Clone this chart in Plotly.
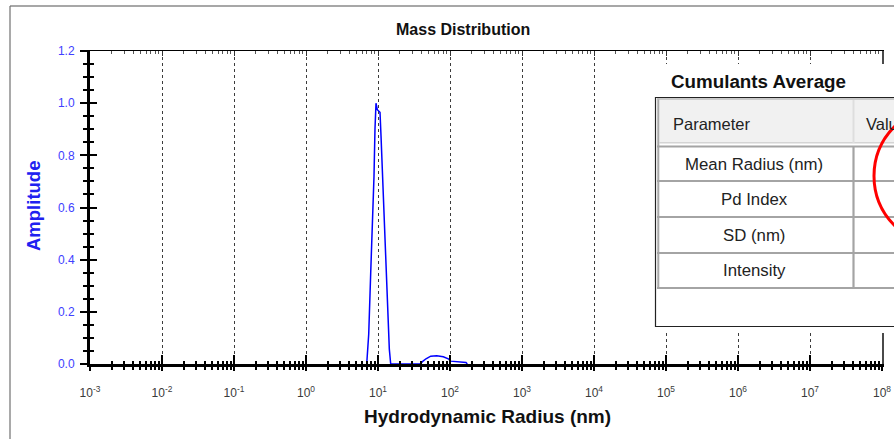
import plotly.graph_objects as go

# ---------------- data ----------------
radius_nm = [6.97, 7.43, 7.92, 8.44, 8.80, 9.08, 9.38, 9.78, 10.66, 11.01, 11.62, 12.11,
             12.78, 13.34, 13.77, 14.36, 15.01,
             38.3, 41.8, 46.4, 54.0, 65.4, 80.7, 94.7, 102.3, 130.3, 166.7, 173.9]
amplitude = [0.0, 0.114, 0.35, 0.55, 0.72, 0.90, 1.0, 0.975, 0.965, 0.875, 0.70, 0.54,
             0.41, 0.29, 0.17, 0.057, 0.0,
             0.0, 0.010, 0.020, 0.030, 0.032, 0.028, 0.020, 0.011, 0.009, 0.006, 0.0]

x_tick_exponents = [-3, -2, -1, 0, 1, 2, 3, 4, 5, 6, 7, 8]
y_tick_values = [0.0, 0.2, 0.4, 0.6, 0.8, 1.0, 1.2]
y_tick_labels = ["0.0", "0.2", "0.4", "0.6", "0.8", "1.0", "1.2"]

chart_title = "Mass Distribution"
x_title = "Hydrodynamic Radius (nm)"
y_title = "Amplitude"
table_title = "Cumulants Average"
table_header = ["Parameter", "Value"]
table_parameters = ["Mean Radius (nm)", "Pd Index", "SD (nm)", "Intensity"]

# ---------------- layout geometry ----------------
W, H = 894, 439
PL, PR, PT, PB = 90, 882, 51, 364  # plot area in pixels

x_tick_values = [10.0 ** e for e in x_tick_exponents]
x_tick_labels = [f"10<sup>{e}</sup>" for e in x_tick_exponents]
x_minor_values = [m * 10.0 ** e for e in x_tick_exponents[:-1] for m in range(2, 10)]

FONT = "Liberation Sans, Arial, sans-serif"


def px(x):
    return (x - PL) / (PR - PL)


def py(y):
    return (PB - y) / (PB - PT)


fig = go.Figure()
fig.add_trace(go.Scatter(x=radius_nm, y=amplitude, mode="lines",
                         line=dict(color="#0000ff", width=1.5),
                         showlegend=False, hoverinfo="skip"))
# empty traces so overlay axes exist
fig.add_trace(go.Scatter(x=[None], y=[None], xaxis="x2", yaxis="y2",
                         showlegend=False, hoverinfo="skip"))
fig.add_trace(go.Scatter(x=[None], y=[None], xaxis="x3", yaxis="y3",
                         showlegend=False, hoverinfo="skip"))

xrange = [x_tick_exponents[0], x_tick_exponents[-1]]
yrange = [y_tick_values[0], y_tick_values[-1]]

fig.update_layout(
    width=W, height=H,
    margin=dict(l=PL, r=W - PR, t=PT, b=H - PB, autoexpand=False),
    paper_bgcolor="white", plot_bgcolor="white",
    font=dict(family=FONT),
    xaxis=dict(type="log", range=xrange, showline=True, linewidth=3, linecolor="black",
               automargin=False,
               ticks="outside", ticklen=4, tickwidth=2, tickcolor="black",
               tickmode="array", tickvals=x_tick_values, ticktext=x_tick_labels,
               tickfont=dict(size=12, color="#3a3a3a", family=FONT),
               ticklabelstandoff=12,
               showgrid=True, gridcolor="#3c3c3c", griddash="dot", gridwidth=1,
               minor=dict(ticks="outside", ticklen=3, tickwidth=1.5, tickcolor="black",
                          tickmode="array", tickvals=x_minor_values, showgrid=False),
               zeroline=False, fixedrange=True),
    xaxis2=dict(type="log", range=xrange, overlaying="x", anchor="y", side="bottom",
                automargin=False,
                showline=False, ticks="inside", ticklen=9, tickwidth=2, tickcolor="black",
                tickmode="array", tickvals=x_tick_values, showticklabels=False,
                showgrid=False, zeroline=False,
                minor=dict(ticks="inside", ticklen=3, tickwidth=1.5, tickcolor="black",
                           tickmode="array", tickvals=x_minor_values, showgrid=False)),
    xaxis3=dict(type="log", range=xrange, overlaying="x", anchor="y", side="top",
                automargin=False,
                showline=True, linewidth=1, linecolor="black",
                ticks="inside", ticklen=5, tickwidth=1, tickcolor="#333",
                tickmode="array", tickvals=x_tick_values, showticklabels=False,
                showgrid=False, zeroline=False,
                minor=dict(ticks="inside", ticklen=3, tickwidth=1, tickcolor="#555",
                           tickmode="array", tickvals=x_minor_values, showgrid=False)),
    yaxis=dict(range=yrange, showline=True, linewidth=3, linecolor="black",
               automargin=False,
               ticks="outside", ticklen=7, tickwidth=2, tickcolor="black",
               tickmode="array", tickvals=y_tick_values, ticktext=y_tick_labels,
               tickfont=dict(size=12, color="#4040ff", family=FONT),
               ticklabelstandoff=3,
               showgrid=False, zeroline=False,
               minor=dict(ticks="outside", ticklen=4, tickwidth=1.5, tickcolor="black",
                          dtick=0.05, showgrid=False), fixedrange=True),
    yaxis2=dict(range=yrange, overlaying="y", anchor="x", side="left",
                automargin=False,
                showline=False, ticks="inside", ticklen=7, tickwidth=2, tickcolor="black",
                tickmode="array", tickvals=y_tick_values, showticklabels=False,
                showgrid=False, zeroline=False,
                minor=dict(ticks="inside", ticklen=4, tickwidth=1.5, tickcolor="black",
                           dtick=0.05, showgrid=False)),
    yaxis3=dict(range=yrange, overlaying="y", anchor="x", side="right",
                automargin=False,
                showline=True, linewidth=2, linecolor="#4a4a4a", ticks="",
                showticklabels=False, showgrid=False, zeroline=False),
)

shapes = []
# outer frame of the screenshot
shapes.append(dict(type="line", xref="paper", yref="paper", x0=px(10), x1=px(W + 20),
                   y0=py(6), y1=py(6), line=dict(color="#505050", width=1.2)))
shapes.append(dict(type="line", xref="paper", yref="paper", x0=px(10), x1=px(10),
                   y0=py(6), y1=py(H + 20), line=dict(color="#707070", width=1.2)))

# white panel behind the table
shapes.append(dict(type="rect", xref="paper", yref="paper", layer="above",
                   x0=px(650), x1=px(W + 30), y0=py(64), y1=py(333),
                   fillcolor="white", line=dict(width=0)))
# table outer border
shapes.append(dict(type="rect", xref="paper", yref="paper", layer="above",
                   x0=px(655.5), x1=px(W + 30), y0=py(97.5), y1=py(326.5),
                   fillcolor="white", line=dict(color="#222", width=1.2)))
# header background
shapes.append(dict(type="rect", xref="paper", yref="paper", layer="above",
                   x0=px(659.5), x1=px(W + 30), y0=py(100), y1=py(142.5),
                   fillcolor="#f1f1f1", line=dict(width=0)))
# header lines
shapes.append(dict(type="line", xref="paper", yref="paper", layer="above",
                   x0=px(659.5), x1=px(W + 30), y0=py(142.8), y1=py(142.8),
                   line=dict(color="#d4d4d4", width=1.5)))
shapes.append(dict(type="line", xref="paper", yref="paper", layer="above",
                   x0=px(853.5), x1=px(853.5), y0=py(100), y1=py(143),
                   line=dict(color="#dedede", width=2)))
# inner left line
shapes.append(dict(type="line", xref="paper", yref="paper", layer="above",
                   x0=px(658.3), x1=px(658.3), y0=py(98.5), y1=py(288.5),
                   line=dict(color="#a8a8a8", width=2)))
shapes.append(dict(type="line", xref="paper", yref="paper", layer="above",
                   x0=px(657), x1=px(W + 30), y0=py(99), y1=py(99),
                   line=dict(color="#b8b8b8", width=1.5)))
# body row lines
row_lines = [146.5, 181, 217, 253, 288]
for yl in row_lines:
    shapes.append(dict(type="line", xref="paper", yref="paper", layer="above",
                       x0=px(657), x1=px(W + 30), y0=py(yl), y1=py(yl),
                       line=dict(color="#a4a4a4", width=2.2)))
shapes.append(dict(type="line", xref="paper", yref="paper", layer="above",
                   x0=px(853.5), x1=px(853.5), y0=py(146), y1=py(288),
                   line=dict(color="#a4a4a4", width=2.2)))
# red annotation ellipse
shapes.append(dict(type="circle", xref="paper", yref="paper", layer="above",
                   x0=px(874), x1=px(1014), y0=py(106), y1=py(246),
                   line=dict(color="#ff0000", width=3)))

fig.update_layout(shapes=shapes)

annotations = []
annotations.append(dict(text=f"<b>{chart_title}</b>", xref="paper", yref="paper",
                        x=px(463), y=py(30), showarrow=False,
                        font=dict(size=16, color="#111", family=FONT),
                        xanchor="center", yanchor="middle"))
annotations.append(dict(text=f"<b>{x_title}</b>", xref="paper", yref="paper",
                        x=px(487), y=py(416), showarrow=False,
                        font=dict(size=19, color="#111", family=FONT),
                        xanchor="center", yanchor="middle"))
annotations.append(dict(text=f"<b>{y_title}</b>", xref="paper", yref="paper",
                        x=px(33), y=py(206), showarrow=False, textangle=-90,
                        font=dict(size=18.5, color="#2020f0", family=FONT),
                        xanchor="center", yanchor="middle"))
annotations.append(dict(text=f"<b>{table_title}</b>", xref="paper", yref="paper",
                        x=px(669), y=py(81), showarrow=False,
                        font=dict(size=18.8, color="#111", family=FONT),
                        xanchor="left", yanchor="middle"))
annotations.append(dict(text=table_header[0], xref="paper", yref="paper",
                        x=px(671), y=py(124), showarrow=False,
                        font=dict(size=16.5, color="#222", family=FONT),
                        xanchor="left", yanchor="middle"))
annotations.append(dict(text=table_header[1], xref="paper", yref="paper",
                        x=px(864), y=py(124), showarrow=False,
                        font=dict(size=16.5, color="#222", family=FONT),
                        xanchor="left", yanchor="middle"))
row_centers = [164.3, 199.3, 235, 270]
for label, yc in zip(table_parameters, row_centers):
    annotations.append(dict(text=label, xref="paper", yref="paper",
                            x=px(754), y=py(yc), showarrow=False,
                            font=dict(size=16.8, color="#222", family=FONT),
                            xanchor="center", yanchor="middle"))
fig.update_layout(annotations=annotations)

fig.write_html("out.html", config={"displayModeBar": False},
               post_script="document.body.style.margin='0';document.body.style.overflow='hidden';")
